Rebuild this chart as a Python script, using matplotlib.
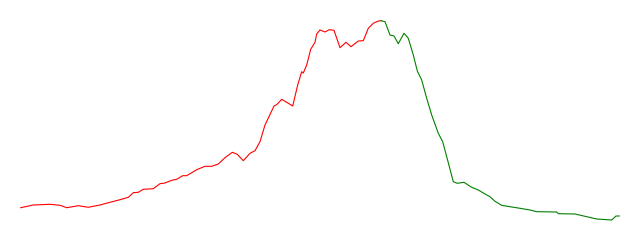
import matplotlib
matplotlib.use("Agg")
import matplotlib.pyplot as plt

# rising part (red)
up_x = [20.7, 33.3, 50, 60, 66.7, 78.3, 88.3, 100, 110, 120, 128.3, 133.3, 138.3,
        143.3, 153.3, 160, 165, 171.7, 176.7, 182.7, 186.7, 196.7, 205, 211.7,
        218.3, 225, 232.3, 237.3, 243.3, 250, 255, 260, 265, 269.3, 274, 276.7,
        281.7, 286.7, 292.7, 297.7, 301.7, 303.3, 306.7, 310.7, 315, 316.7, 320,
        325, 329.3, 334, 340, 346, 351, 358.3, 363.3, 368.3, 373.3, 378.3, 381]
up_y = [32.3, 35, 35.7, 34.7, 32.3, 34.3, 32.7, 35, 37.7, 40.3, 42.7, 47.3, 47.7,
        50.7, 51.3, 56.3, 57, 59.7, 60.7, 64.3, 64.3, 70.3, 73.7, 73.7,
        76, 82.3, 87.7, 85.7, 79.3, 86.7, 89.3, 98.3, 115, 124, 134, 135.3,
        140.7, 137.7, 134, 155, 168.3, 167, 175, 190.7, 197.7, 206, 210,
        208, 210.3, 209.7, 192.3, 197.7, 193.3, 199, 199.3, 211.7, 216.7, 219, 219.3]

# falling part (green)
down_x = [381, 385, 390, 394, 398.3, 404, 408.3, 413.3, 417.3, 421.7, 426.7, 431.7,
          438.3, 442.7, 446.7, 453.3, 457.3, 464, 471.7, 478.3, 485, 490, 495,
          501.7, 510, 520, 530, 536.7, 556.7, 558.3, 575, 586.7, 596.7, 611.7,
          616, 619.3]
down_y = [219.3, 218.3, 205, 204, 196.3, 206.7, 201.7, 185, 169, 160, 141.7, 125,
          106.7, 98.3, 83.3, 58.3, 56.7, 57.7, 52.7, 50, 46, 43.3, 38.7,
          34.7, 33.3, 31.7, 30, 28.3, 28, 26.3, 26, 23.3, 21, 20,
          24, 24]

fig = plt.figure(figsize=(6.4, 2.4), dpi=100)
ax = fig.add_axes([0, 0, 1, 1])
ax.plot(up_x, up_y, color='red', lw=0.8)
ax.plot(down_x, down_y, color='green', lw=0.8)
ax.set_xlim(0, 640)
ax.set_ylim(0, 240)
ax.axis('off')

fig.savefig('out.png', dpi=100)
